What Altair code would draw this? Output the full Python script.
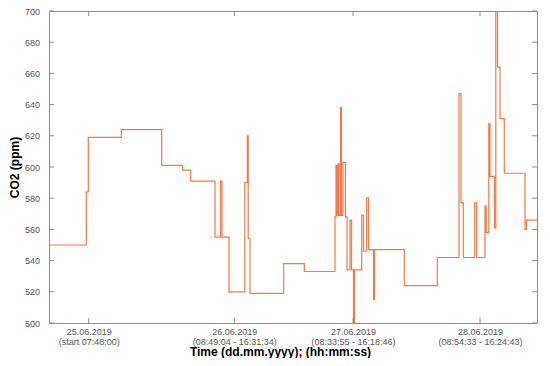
import altair as alt
import pandas as pd

# time index (arbitrary units along the compressed measurement axis) and CO2 values (ppm)
t = [0, 37.3, 39.3, 72.3, 112.7, 133.7, 141.7, 166, 171.5, 173, 180,
     195.8, 198.3, 199.2, 201, 234.7, 255.3,
     286, 287, 288, 289, 290, 291.5, 292.5, 294, 296.5, 298, 301, 302.5,
     304.5, 305.5, 312.7, 314.5, 317.7, 319.5, 324.5, 325.5, 355.3,
     388.3, 410, 412, 414.3, 425.7, 427.7, 436, 437.2, 439.8, 441,
     445.5, 446.8, 448.5, 451, 455.3, 476, 477.5, 488]
co2 = [550, 584, 619, 624, 601, 598, 591, 555, 591, 555, 520,
       590, 620, 554, 519, 538, 533,
       568, 601, 569, 602, 569, 638, 569, 603, 568, 534, 566, 534,
       500, 534, 569, 546, 580, 547, 515, 547, 524,
       542, 647, 577, 542, 577, 542, 575, 558, 628, 594,
       561, 700, 664, 631, 596, 560, 566, 566]

tick_pos = [39.7, 185.3, 304, 431]
tick_line1 = ["25.06.2019", "26.06.2019", "27.06.2019", "28.06.2019"]
tick_line2 = ["(start 07:48:00)", "(08:49:04 - 16:31:34)",
              "(08:33:55 - 16:18:46)", "(08:54:33 - 16:24:43)"]
y_ticks = list(range(500, 701, 20))

df = pd.DataFrame({"t": t, "co2": co2})
xdf = pd.DataFrame({"t": tick_pos})
ydf = pd.DataFrame({"co2": y_ticks})

# multi-line label expression
expr = "''"
for p, a, b in reversed(list(zip(tick_pos, tick_line1, tick_line2))):
    expr = f"(abs(datum.value - {p}) < 1 ? ['{a}', '{b}'] : {expr})"

GRAY = "#8c8c8c"
LINE = "#F5784A"
FONT = "Liberation Sans"

xscale = alt.Scale(domain=[0, 488], nice=False, zero=False)
yscale = alt.Scale(domain=[500, 700], nice=False, zero=False)

xaxis = alt.Axis(
    values=tick_pos, labelExpr=expr, title="Time (dd.mm.yyyy); (hh:mm:ss)",
    grid=False, domain=False, ticks=False, labelPadding=4,
    labelFontSize=9, labelLineHeight=10, labelColor="#555555", labelFont=FONT,
    labelFlush=False, labelOverlap=False,
    titleFontSize=12, titleFontWeight="bold", titleFont=FONT, titleColor="#000000",
    titleX=231, titleY=32.5, titleAlign="center", titleBaseline="alphabetic")
yaxis = alt.Axis(
    values=y_ticks, title="CO2 (ppm)", grid=False, domain=False, ticks=False,
    labelPadding=9.5, labelFontSize=9, labelColor="#555555", labelFont=FONT,
    labelFlush=False, labelOverlap=False,
    titleFontSize=12, titleFontWeight="bold", titleFont=FONT, titleColor="#000000",
    titleX=-31, titleY=167 - 11, titleAlign="center", titleBaseline="alphabetic",
    titleAngle=270)

line = alt.Chart(df).mark_line(
    interpolate="step-after", color=LINE, strokeWidth=1.2, clip=True
).encode(
    x=alt.X("t:Q", scale=xscale, axis=xaxis),
    y=alt.Y("co2:Q", scale=yscale, axis=yaxis),
)

left_ticks = alt.Chart(ydf).mark_rule(color=GRAY).encode(
    y=alt.Y("co2:Q", scale=yscale, axis=yaxis), x=alt.value(0), x2=alt.value(5))
right_ticks = alt.Chart(ydf).mark_rule(color=GRAY).encode(
    y=alt.Y("co2:Q", scale=yscale, axis=yaxis), x=alt.value(483), x2=alt.value(488))
bottom_ticks = alt.Chart(xdf).mark_rule(color=GRAY).encode(
    x=alt.X("t:Q", scale=xscale, axis=xaxis), y=alt.value(307), y2=alt.value(312))
top_ticks = alt.Chart(xdf).mark_rule(color=GRAY).encode(
    x=alt.X("t:Q", scale=xscale, axis=xaxis), y=alt.value(0), y2=alt.value(5))

chart = alt.layer(line, left_ticks, right_ticks, bottom_ticks, top_ticks).properties(
    width=488, height=312,
    autosize=alt.AutoSizeParams(type="none"),
    padding={"left": 41, "top": 3, "right": 5, "bottom": 35},
    background="white",
).configure_view(stroke=GRAY, strokeWidth=1)

chart.save("out.html", embed_options={"renderer": "svg", "actions": False})
